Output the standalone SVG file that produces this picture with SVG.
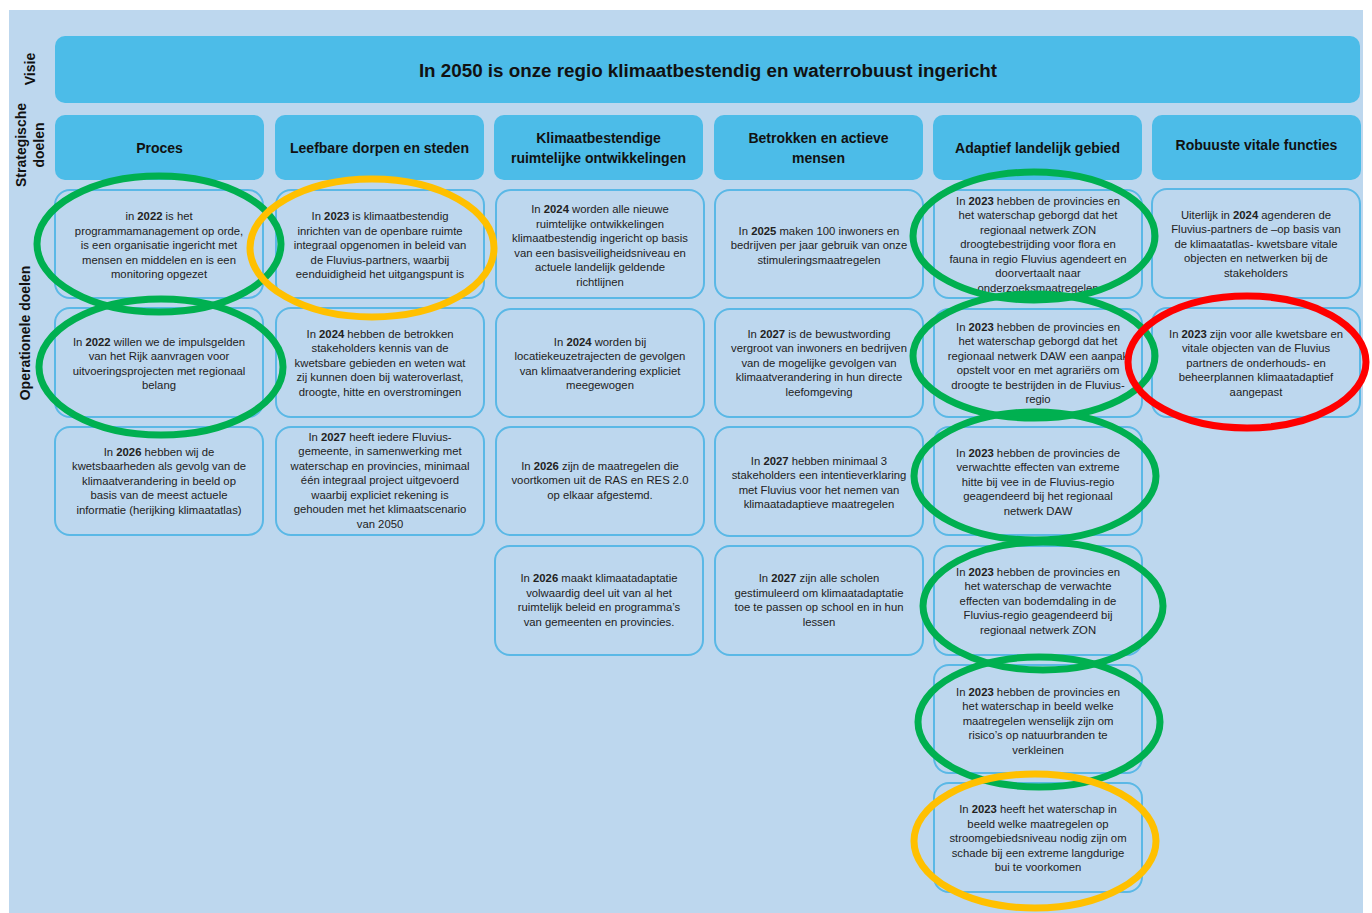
<svg xmlns="http://www.w3.org/2000/svg" width="1372" height="913" viewBox="0 0 1372 913">
<style>
.bg{fill:#BDD7EE}
.hdr{fill:#4CBCE8}
.op{fill:#BDD7EE;stroke:#5AB8E6;stroke-width:2}
.t{font-family:"Liberation Sans",Arial,sans-serif;font-size:11.3px;fill:#222;text-anchor:middle}
.h{font-family:"Liberation Sans",Arial,sans-serif;font-size:14px;font-weight:bold;fill:#111;text-anchor:middle}
.v{font-family:"Liberation Sans",Arial,sans-serif;font-size:18.8px;font-weight:bold;fill:#111;text-anchor:middle}
.side{font-family:"Liberation Sans",Arial,sans-serif;font-size:14px;font-weight:bold;fill:#111;text-anchor:middle}
.b{font-weight:bold}
.ring{fill:none;stroke-width:7}
.g{stroke:#00B050}.y{stroke:#FFC000}.r{stroke:#FF0000}
</style>
<rect x="0" y="0" width="1372" height="913" fill="#FFFFFF"/>
<rect class="bg" x="9" y="10" width="1354" height="903"/>
<g id="labels">
<text class="side" transform="translate(35,69) rotate(-90)">Visie</text>
<text class="side" transform="translate(26,145) rotate(-90)">Strategische</text>
<text class="side" transform="translate(44,145) rotate(-90)">doelen</text>
<text class="side" transform="translate(30,333) rotate(-90)">Operationele doelen</text>
</g>
<g id="visie">
<rect class="hdr" x="55" y="36" width="1305" height="67" rx="10"/>
<text class="v" x="708" y="77">In 2050 is onze regio klimaatbestendig en waterrobuust ingericht</text>
</g>
<g id="strategisch">
<rect class="hdr" x="55" y="115" width="209" height="65" rx="10"/>
<text class="h" x="159.5" y="153">Proces</text>
<rect class="hdr" x="275" y="115" width="209" height="65" rx="10"/>
<text class="h" x="379.5" y="153">Leefbare dorpen en steden</text>
<rect class="hdr" x="494" y="115" width="209" height="65" rx="10"/>
<text class="h" x="598.5" y="143">Klimaatbestendige</text>
<text class="h" x="598.5" y="163">ruimtelijke ontwikkelingen</text>
<rect class="hdr" x="714" y="115" width="209" height="65" rx="10"/>
<text class="h" x="818.5" y="143">Betrokken en actieve</text>
<text class="h" x="818.5" y="163">mensen</text>
<rect class="hdr" x="933" y="115" width="209" height="65" rx="10"/>
<text class="h" x="1037.5" y="153">Adaptief landelijk gebied</text>
<rect class="hdr" x="1152" y="115" width="209" height="65" rx="10"/>
<text class="h" x="1256.5" y="150">Robuuste vitale functies</text>
</g>
<g id="col1">
<rect class="op" x="55" y="190" width="208" height="108" rx="15"/>
<text class="t" x="159" y="220"><tspan>in </tspan><tspan class="b">2022</tspan><tspan> is het</tspan></text>
<text class="t" x="159" y="235">programmamanagement op orde,</text>
<text class="t" x="159" y="249">is een organisatie ingericht met</text>
<text class="t" x="159" y="264">mensen en middelen en is een</text>
<text class="t" x="159" y="278">monitoring opgezet</text>
<rect class="op" x="55" y="308" width="208" height="109" rx="15"/>
<text class="t" x="159" y="346">In <tspan class="b">2022</tspan> willen we de impulsgelden</text>
<text class="t" x="159" y="360">van het Rijk aanvragen voor</text>
<text class="t" x="159" y="375">uitvoeringsprojecten met regionaal</text>
<text class="t" x="159" y="389">belang</text>
<rect class="op" x="55" y="427" width="208" height="108" rx="15"/>
<text class="t" x="159" y="456">In <tspan class="b">2026</tspan> hebben wij de</text>
<text class="t" x="159" y="470">kwetsbaarheden als gevolg van de</text>
<text class="t" x="159" y="485">klimaatverandering in beeld op</text>
<text class="t" x="159" y="499">basis van de meest actuele</text>
<text class="t" x="159" y="514">informatie (herijking klimaatatlas)</text>
</g>
<g id="col2">
<rect class="op" x="276" y="190" width="208" height="108" rx="15"/>
<text class="t" x="380" y="220">In <tspan class="b">2023</tspan> is klimaatbestendig</text>
<text class="t" x="380" y="235">inrichten van de openbare ruimte</text>
<text class="t" x="380" y="249">integraal opgenomen in beleid van</text>
<text class="t" x="380" y="264">de Fluvius-partners, waarbij</text>
<text class="t" x="380" y="278">eenduidigheid het uitgangspunt is</text>
<rect class="op" x="276" y="308" width="208" height="109" rx="15"/>
<text class="t" x="380" y="338">In <tspan class="b">2024</tspan> hebben de betrokken</text>
<text class="t" x="380" y="352">stakeholders kennis van de</text>
<text class="t" x="380" y="367">kwetsbare gebieden en weten wat</text>
<text class="t" x="380" y="381">zij kunnen doen bij wateroverlast,</text>
<text class="t" x="380" y="396">droogte, hitte en overstromingen</text>
<rect class="op" x="276" y="427" width="208" height="108" rx="15"/>
<text class="t" x="380" y="441">In <tspan class="b">2027</tspan> heeft iedere Fluvius-</text>
<text class="t" x="380" y="455">gemeente, in samenwerking met</text>
<text class="t" x="380" y="470">waterschap en provincies, minimaal</text>
<text class="t" x="380" y="484">één integraal project uitgevoerd</text>
<text class="t" x="380" y="499">waarbij expliciet rekening is</text>
<text class="t" x="380" y="513">gehouden met het klimaatscenario</text>
<text class="t" x="380" y="528">van 2050</text>
</g>
<g id="col3">
<rect class="op" x="496" y="190" width="208" height="108" rx="15"/>
<text class="t" x="600" y="213">In <tspan class="b">2024</tspan> worden alle nieuwe</text>
<text class="t" x="600" y="228">ruimtelijke ontwikkelingen</text>
<text class="t" x="600" y="242">klimaatbestendig ingericht op basis</text>
<text class="t" x="600" y="257">van een basisveiligheidsniveau en</text>
<text class="t" x="600" y="271">actuele landelijk geldende</text>
<text class="t" x="600" y="286">richtlijnen</text>
<rect class="op" x="496" y="309" width="208" height="108" rx="15"/>
<text class="t" x="600" y="346">In <tspan class="b">2024</tspan> worden bij</text>
<text class="t" x="600" y="360">locatiekeuzetrajecten de gevolgen</text>
<text class="t" x="600" y="375">van klimaatverandering expliciet</text>
<text class="t" x="600" y="389">meegewogen</text>
<rect class="op" x="496" y="427" width="208" height="108" rx="15"/>
<text class="t" x="600" y="470">In <tspan class="b">2026</tspan> zijn de maatregelen die</text>
<text class="t" x="600" y="484">voortkomen uit de RAS en RES 2.0</text>
<text class="t" x="600" y="499">op elkaar afgestemd.</text>
<rect class="op" x="495" y="546" width="208" height="109" rx="15"/>
<text class="t" x="599" y="582">In <tspan class="b">2026</tspan> maakt klimaatadaptatie</text>
<text class="t" x="599" y="597">volwaardig deel uit van al het</text>
<text class="t" x="599" y="611">ruimtelijk beleid en programma’s</text>
<text class="t" x="599" y="626">van gemeenten en provincies.</text>
</g>
<g id="col4">
<rect class="op" x="715" y="190" width="208" height="108" rx="15"/>
<text class="t" x="819" y="235">In <tspan class="b">2025</tspan> maken 100 inwoners en</text>
<text class="t" x="819" y="249">bedrijven per jaar gebruik van onze</text>
<text class="t" x="819" y="264">stimuleringsmaatregelen</text>
<rect class="op" x="715" y="309" width="208" height="108" rx="15"/>
<text class="t" x="819" y="338">In <tspan class="b">2027</tspan> is de bewustwording</text>
<text class="t" x="819" y="352">vergroot van inwoners en bedrijven</text>
<text class="t" x="819" y="367">van de mogelijke gevolgen van</text>
<text class="t" x="819" y="381">klimaatverandering in hun directe</text>
<text class="t" x="819" y="396">leefomgeving</text>
<rect class="op" x="715" y="427" width="208" height="109" rx="15"/>
<text class="t" x="819" y="465">In <tspan class="b">2027</tspan> hebben minimaal 3</text>
<text class="t" x="819" y="479">stakeholders een intentieverklaring</text>
<text class="t" x="819" y="494">met Fluvius voor het nemen van</text>
<text class="t" x="819" y="508">klimaatadaptieve maatregelen</text>
<rect class="op" x="715" y="546" width="208" height="109" rx="15"/>
<text class="t" x="819" y="582">In <tspan class="b">2027</tspan> zijn alle scholen</text>
<text class="t" x="819" y="597">gestimuleerd om klimaatadaptatie</text>
<text class="t" x="819" y="611">toe te passen op school en in hun</text>
<text class="t" x="819" y="626">lessen</text>
</g>
<g id="col5">
<rect class="op" x="934" y="190" width="208" height="108" rx="15"/>
<text class="t" x="1038" y="205">In <tspan class="b">2023</tspan> hebben de provincies en</text>
<text class="t" x="1038" y="219">het waterschap geborgd dat het</text>
<text class="t" x="1038" y="234">regionaal netwerk ZON</text>
<text class="t" x="1038" y="248">droogtebestrijding voor flora en</text>
<text class="t" x="1038" y="263">fauna in regio Fluvius agendeert en</text>
<text class="t" x="1038" y="277">doorvertaalt naar</text>
<text class="t" x="1038" y="292">onderzoeksmaatregelen</text>
<rect class="op" x="934" y="309" width="208" height="108" rx="15"/>
<text class="t" x="1038" y="331">In <tspan class="b">2023</tspan> hebben de provincies en</text>
<text class="t" x="1038" y="345">het waterschap geborgd dat het</text>
<text class="t" x="1038" y="360">regionaal netwerk DAW een aanpak</text>
<text class="t" x="1038" y="374">opstelt voor en met agrariërs om</text>
<text class="t" x="1038" y="389">droogte te bestrijden in de Fluvius-</text>
<text class="t" x="1038" y="403">regio</text>
<rect class="op" x="934" y="427" width="208" height="108" rx="15"/>
<text class="t" x="1038" y="457">In <tspan class="b">2023</tspan> hebben de provincies de</text>
<text class="t" x="1038" y="471">verwachtte effecten van extreme</text>
<text class="t" x="1038" y="486">hitte bij vee in de Fluvius-regio</text>
<text class="t" x="1038" y="500">geagendeerd bij het regionaal</text>
<text class="t" x="1038" y="515">netwerk DAW</text>
<rect class="op" x="934" y="546" width="208" height="109" rx="15"/>
<text class="t" x="1038" y="576">In <tspan class="b">2023</tspan> hebben de provincies en</text>
<text class="t" x="1038" y="590">het waterschap de verwachte</text>
<text class="t" x="1038" y="605">effecten van bodemdaling in de</text>
<text class="t" x="1038" y="619">Fluvius-regio geagendeerd bij</text>
<text class="t" x="1038" y="634">regionaal netwerk ZON</text>
<rect class="op" x="934" y="665" width="208" height="108" rx="15"/>
<text class="t" x="1038" y="696">In <tspan class="b">2023</tspan> hebben de provincies en</text>
<text class="t" x="1038" y="710">het waterschap in beeld welke</text>
<text class="t" x="1038" y="725">maatregelen wenselijk zijn om</text>
<text class="t" x="1038" y="739">risico’s op natuurbranden te</text>
<text class="t" x="1038" y="754">verkleinen</text>
<rect class="op" x="934" y="783" width="208" height="109" rx="15"/>
<text class="t" x="1038" y="813">In <tspan class="b">2023</tspan> heeft het waterschap in</text>
<text class="t" x="1038" y="828">beeld welke maatregelen op</text>
<text class="t" x="1038" y="842">stroomgebiedsniveau nodig zijn om</text>
<text class="t" x="1038" y="857">schade bij een extreme langdurige</text>
<text class="t" x="1038" y="871">bui te voorkomen</text>
</g>
<g id="col6">
<rect class="op" x="1152" y="189" width="208" height="109" rx="15"/>
<text class="t" x="1256" y="219">Uiterlijk in <tspan class="b">2024</tspan> agenderen de</text>
<text class="t" x="1256" y="233">Fluvius-partners de –op basis van</text>
<text class="t" x="1256" y="248">de klimaatatlas- kwetsbare vitale</text>
<text class="t" x="1256" y="262">objecten en netwerken bij de</text>
<text class="t" x="1256" y="277">stakeholders</text>
<rect class="op" x="1152" y="308" width="208" height="109" rx="15"/>
<text class="t" x="1256" y="338">In <tspan class="b">2023</tspan> zijn voor alle kwetsbare en</text>
<text class="t" x="1256" y="352">vitale objecten van de Fluvius</text>
<text class="t" x="1256" y="367">partners de onderhouds- en</text>
<text class="t" x="1256" y="381">beheerplannen klimaatadaptief</text>
<text class="t" x="1256" y="396">aangepast</text>
</g>
<g id="markeringen">
<ellipse class="ring g" cx="159" cy="244" rx="122" ry="68"/>
<ellipse class="ring g" cx="161" cy="367" rx="122" ry="68"/>
<ellipse class="ring y" cx="372" cy="248" rx="122" ry="69"/>
<ellipse class="ring g" cx="1034" cy="236" rx="121" ry="64"/>
<ellipse class="ring g" cx="1034" cy="356" rx="121" ry="62"/>
<ellipse class="ring g" cx="1035" cy="476" rx="121" ry="64"/>
<ellipse class="ring g" cx="1043" cy="606" rx="120" ry="64"/>
<ellipse class="ring g" cx="1039" cy="722" rx="121" ry="65"/>
<ellipse class="ring y" cx="1035" cy="841" rx="121" ry="67"/>
<ellipse class="ring r" cx="1247" cy="362" rx="119" ry="66"/>
</g>
</svg>
